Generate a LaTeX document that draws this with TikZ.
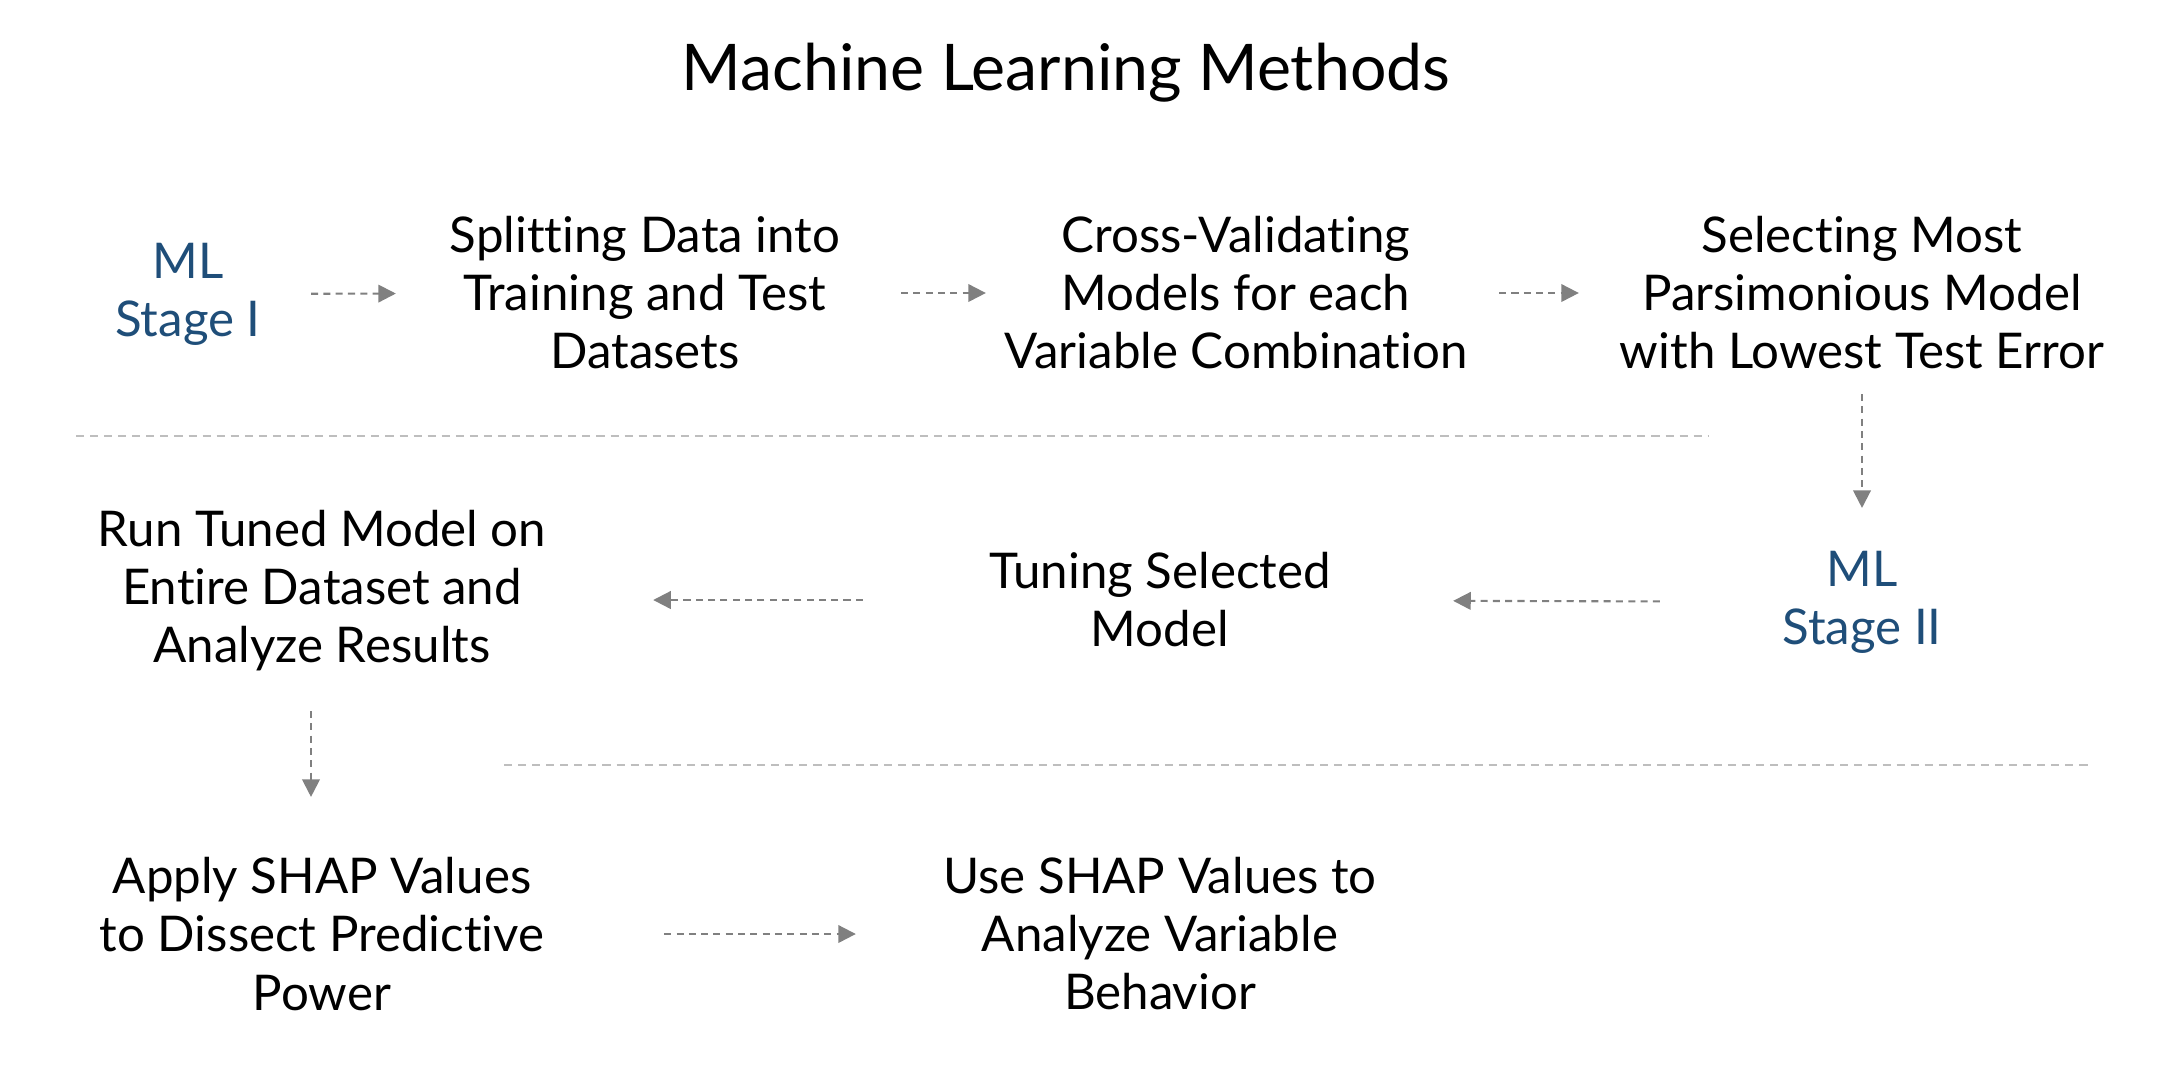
\documentclass[tikz,border=0pt]{standalone}
\usepackage{fontspec}
\setmainfont{Lato}[RawFeature={-liga;-clig;-calt;-rlig;-dlig}]
\usetikzlibrary{arrows.meta}
\definecolor{stageblue}{RGB}{31,78,121}
\definecolor{arrowgray}{RGB}{128,128,128}
\definecolor{rulegray}{RGB}{190,190,190}
\begin{document}
\begin{tikzpicture}[x=0.01cm,y=-0.01cm,
    txt/.style={align=center,inner sep=0pt,font=\fontsize{14}{16.5}\selectfont},
    stage/.style={txt,text=stageblue},
    flow/.style={draw=arrowgray,line width=0.6pt,dash pattern=on 2pt off 1.5pt,
      -{Triangle[length=5pt,width=5pt]}},
    sep/.style={draw=rulegray,line width=0.6pt,dash pattern=on 2.3pt off 1.7pt}]
  \useasboundingbox (0,0) rectangle (2166,1090);
  \node [anchor=base,font=\fontsize{18.3}{20}\selectfont] (title) at (1066,90) {Machine Learning Methods};
  % first row
  \node [stage] (stage1) at (188,294) {ML\\Stage I};
  \node [txt] (split) at (645,293) {Splitting Data into\\Training and Test\\Datasets};
  \node [txt] (cross) at (1236,293) {Cross-Validating\\Models for each\\Variable Combination};
  \node [txt] (select) at (1862,293) {Selecting Most\\Parsimonious Model\\with Lowest Test Error};
  \draw [flow,shorten <=1.23cm,shorten >=2.49cm] (stage1.center) -- (split.center);
  \draw [flow,shorten <=2.56cm,shorten >=2.50cm] (split.center) -- (cross.center);
  \draw [flow,shorten <=2.63cm,shorten >=2.83cm] (cross.center) -- (select.center);
  \draw [sep] (76,436) -- (1709,436);
  % second row
  \node [stage] (stage2) at (1862,602) {ML\\Stage II};
  \node [txt] (tune) at (1160,600) {Tuning Selected\\Model};
  \node [txt] (run) at (322,591) {Run Tuned Model on\\Entire Dataset and\\Analyze Results};
  \draw [flow,shorten <=1.01cm,shorten >=0.94cm] (select.center) -- (stage2.center);
  \draw [flow,shorten <=2.02cm,shorten >=2.93cm] (stage2.center) -- (tune.center);
  \draw [flow,shorten <=2.97cm,shorten >=3.31cm] (tune.center) -- (tune.center -| run.center);
  \draw [sep] (504,765) -- (2090,765);
  % third row
  \node [txt] (apply) at (322,934) {Apply SHAP Values\\to Dissect Predictive\\Power};
  \node [txt] (use) at (1160,934) {Use SHAP Values to\\Analyze Variable\\Behavior};
  \draw [flow,shorten <=1.20cm,shorten >=1.37cm] ([xshift=-0.11cm]run.center) -- ([xshift=-0.11cm]apply.center);
  \draw [flow,shorten <=3.42cm,shorten >=3.04cm] (apply.center) -- (use.center);
\end{tikzpicture}
\end{document}
